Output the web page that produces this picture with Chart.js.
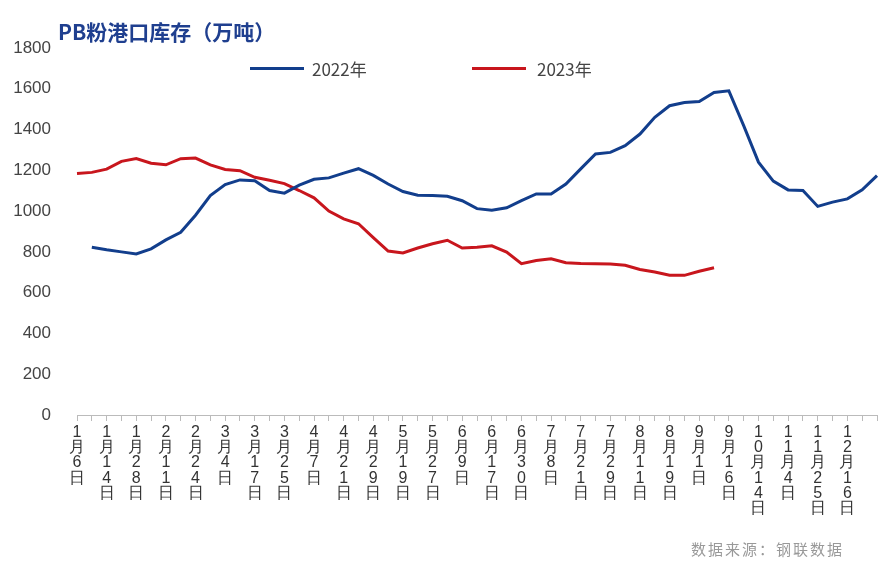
<!DOCTYPE html>
<html><head><meta charset="utf-8">
<script src="https://cdn.jsdelivr.net/npm/chart.js@4"></script>
<style>
body{margin:0;background:#fff;font-family:"Noto Sans CJK SC","Noto Sans",sans-serif;}
#wrap{position:relative;width:896px;height:576px;}
#title{position:absolute;left:58px;top:16px;font-size:21px;font-weight:bold;color:#1f3f8f;font-family:"Noto Sans CJK SC";}
.lg{position:absolute;top:56px;font-size:17px;color:#444;font-family:"Noto Sans CJK SC";}
.sw{position:absolute;top:67px;height:3px;width:54px;}
#src{position:absolute;right:52px;top:538px;font-size:15px;color:#999;letter-spacing:2px;}
</style></head><body>
<div id="wrap">
<canvas id="c" width="896" height="576"></canvas>
<div id="title">PB粉港口库存（万吨）</div>
<div class="sw" style="left:250px;background:#123e8c"></div><div class="lg" style="left:312px">2022年</div>
<div class="sw" style="left:472px;background:#c8161d"></div><div class="lg" style="left:537px">2023年</div>
<div id="src">数据来源：钢联数据</div>
</div>
<script>
const tickLabels=["1月6日","1月14日","1月28日","2月11日","2月24日","3月4日","3月17日","3月25日","4月7日","4月21日","4月29日","5月19日","5月27日","6月9日","6月17日","6月30日","7月8日","7月21日","7月29日","8月11日","8月19日","9月1日","9月16日","10月14日","11月4日","11月25日","12月16日"];
const categories=[];
for(let i=0;i<55;i++){categories.push(i%2===0&&tickLabels[i/2]?tickLabels[i/2]:"");}
const series2022=[null,823,810,800,790,815,859,896,980,1076,1130,1153,1149,1101,1088,1127,1156,1163,1186,1208,1175,1133,1096,1078,1076,1073,1051,1012,1004,1016,1051,1084,1084,1133,1207,1280,1288,1321,1378,1460,1517,1533,1538,1582,1590,1419,1240,1147,1104,1101,1023,1044,1060,1104,1174];
const series2023=[1185,1190,1206,1244,1258,1235,1227,1257,1260,1227,1204,1198,1166,1151,1135,1101,1065,1000,962,938,870,804,795,819,840,857,819,823,830,799,742,758,766,747,743,742,740,734,714,701,685,685,705,722];
new Chart(document.getElementById('c'),{
type:'line',
data:{labels:categories,datasets:[
{label:'2022年',data:series2022,borderColor:'#123e8c',borderWidth:3,pointRadius:0,tension:0},
{label:'2023年',data:series2023,borderColor:'#c8161d',borderWidth:3,pointRadius:0,tension:0}]},
options:{responsive:false,animation:false,
layout:{padding:{left:0,right:19,top:48,bottom:0}},
plugins:{legend:{display:false},tooltip:{enabled:false}},
scales:{
y:{min:0,max:1800,ticks:{stepSize:200,color:'#444',font:{size:17,family:'Liberation Sans'},padding:18,callback:v=>String(v)},grid:{display:false},border:{display:false},afterFit:s=>{s.width=77;}},
x:{offset:false,grid:{display:true,drawOnChartArea:false,tickLength:6,color:'#bbb'},border:{color:'#bbb'},
ticks:{autoSkip:false,maxRotation:0,minRotation:0,color:'#333',font:{size:16,family:'Liberation Sans',lineHeight:0.95},padding:4,
callback:function(v){const l=this.getLabelForValue(v);return l?l.split(''):'';}},
afterFit:s=>{s.height=161;}}
}}});
</script></body></html>
